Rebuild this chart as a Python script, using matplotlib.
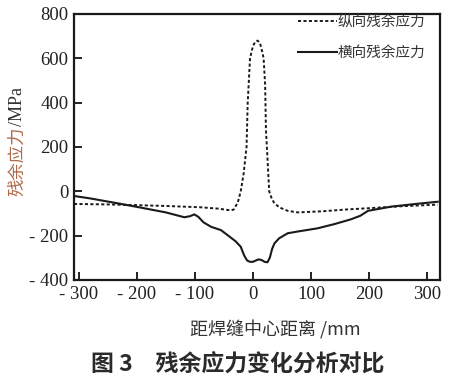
import matplotlib
matplotlib.use("Agg")
import matplotlib.pyplot as plt
from matplotlib.ticker import FixedLocator, FixedFormatter

plt.rcParams['font.family'] = ['Liberation Serif', 'Noto Sans CJK SC', 'DejaVu Sans']

# data (mm, MPa)
long_x = [-308, -250, -205, -150, -90, -60, -38, -33, -26, -21, -16, -11, -9, -5, 0, 4, 8, 12, 16, 18.4,
          21, 22.4, 24, 26, 28, 32, 36, 45, 60, 77, 120, 160, 200, 250, 300, 318]
long_y = [-57, -59, -62, -66, -72, -78, -86, -82, -50, 0, 80, 200, 400, 600, 655, 675, 680, 670, 630, 600,
          480, 276, 200, 100, 0, -30, -50, -72, -88, -95, -90, -82, -76, -68, -62, -60]

trans_x = [-308, -280, -233, -200, -150, -118, -108, -101, -94, -85, -72, -55, -44, -30, -21, -15, -10,
           -5, 0, 5, 10, 15, 20, 25, 29, 33, 37, 45, 60, 80, 111, 140, 169, 185, 198, 238, 280, 318]
trans_y = [-21, -32, -54, -70, -95, -117, -112, -104, -115, -140, -160, -175, -197, -225, -250, -290, -312,
           -318, -318, -312, -307, -310, -318, -320, -300, -260, -235, -212, -189, -180, -167, -148, -126,
           -110, -88, -69, -57, -47]

xticks = [-300, -200, -100, 0, 100, 200, 300]
xlabels = ['- 300', '- 200', '- 100', '0', '100', '200', '300']
yticks = [-400, -200, 0, 200, 400, 600, 800]
ylabels = ['- 400', '- 200', '0', '200', '400', '600', '800']

fig = plt.figure(figsize=(4.49, 3.84), dpi=100)
ax = fig.add_axes([74 / 449, 1 - 280 / 384, 366 / 449, 266 / 384])

ax.plot(long_x, long_y, color='#1a1a1a', lw=1.4, ls=(0, (1.6, 1.2)), label='纵向残余应力')
ax.plot(trans_x, trans_y, color='#1a1a1a', lw=1.5, label='横向残余应力')

ax.set_xlim(-308, 322)
ax.set_ylim(-400, 800)
ax.xaxis.set_major_locator(FixedLocator(xticks))
ax.xaxis.set_major_formatter(FixedFormatter(xlabels))
ax.yaxis.set_major_locator(FixedLocator(yticks))
ax.yaxis.set_major_formatter(FixedFormatter(ylabels))
ax.tick_params(direction='in', length=5.5, width=1.4, labelsize=13.5, colors='#222222', pad=4)
for s in ax.spines.values():
    s.set_linewidth(1.6)
    s.set_color('#1a1a1a')

leg = ax.legend(loc='upper right', bbox_to_anchor=(0.995, 1.045), frameon=False,
                handlelength=2.7, handletextpad=0.0, labelspacing=1.15,
                prop={'family': ['Noto Sans CJK SC'], 'size': 10.5})
for t in leg.get_texts():
    t.set_color('#333333')

fig.text(17 / 449, 1 - 161 / 384, '残余应力', rotation=90, ha='center', va='center',
         fontsize=12.5, color='#b0694a', family=['Noto Sans CJK SC'])
fig.text(17 / 449, 1 - 106 / 384, '/MPa', rotation=90, ha='center', va='center',
         fontsize=13, color='#333333', family=['Liberation Serif'])

fig.text(275 / 449, 1 - 330 / 384, '距焊缝中心距离 /mm', ha='center', va='center',
         fontsize=13, color='#333333', family=['Noto Sans CJK SC', 'Liberation Serif'])
fig.text(238 / 449, 1 - 365 / 384, '图 3　残余应力变化分析对比', ha='center', va='center',
         fontsize=16.5, color='#2a2a2a', family=['Noto Sans CJK SC'], fontweight='bold')

fig.savefig('out.png', dpi=100)
